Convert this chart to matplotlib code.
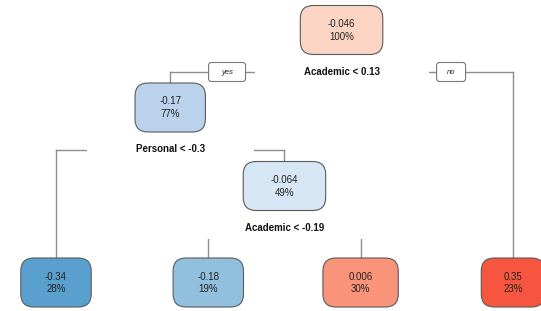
import matplotlib
matplotlib.use('Agg')
import matplotlib.pyplot as plt
from matplotlib.patches import FancyBboxPatch, Rectangle

plt.rcParams['font.family'] = ['Liberation Sans', 'DejaVu Sans']

# tree nodes (rpart numbering)
node_ids = [1, 2, 5, 4, 10, 11, 3]
node_values = ['-0.046', '-0.17', '-0.064', '-0.34', '-0.18', '0.006', '0.35']
node_pcts = [100, 77, 49, 28, 19, 30, 23]
node_colors = ['#fcd4c3', '#bad2ec', '#d7e6f5', '#5aa0ce', '#90c0de', '#f9937a', '#f6563f']
split_nodes = [1, 2, 5]
split_labels = ['Academic < 0.13', 'Personal < -0.3', 'Academic < -0.19']
children = {1: (2, 3), 2: (4, 5), 5: (10, 11)}

W, H = 541, 311
fig = plt.figure(figsize=(W / 100, H / 100), dpi=100)
ax = fig.add_axes([0, 0, 1, 1])
ax.set_xlim(0, W)
ax.set_ylim(H, 0)
ax.axis('off')

# layout: leaves evenly spaced, parents centred over children
def leaves_of(n):
    if n not in children:
        return [n]
    return leaves_of(children[n][0]) + leaves_of(children[n][1])

leaf_order = leaves_of(1)
xs = {}
for i, n in enumerate(leaf_order):
    xs[n] = 56 + i * 152.3

def place(n):
    if n in children:
        a, b = children[n]
        place(a)
        place(b)
        xs[n] = (xs[a] + xs[b]) / 2
place(1)

level_y = [30, 107.5, 186]
leaf_y = 282.5
depth = {1: 0}
for p in [1, 2, 5]:
    for c in children[p]:
        depth[c] = depth[p] + 1
ys = {n: (leaf_y if n not in children else level_y[depth[n]]) for n in node_ids}

box_h = 49
renderer = fig.canvas.get_renderer()
line_col = '#8e8e8e'

def text_width(s, **kw):
    t = ax.text(0, 0, s, **kw)
    w = t.get_window_extent(renderer).width
    t.remove()
    return w

half_w = {}
for n, val in zip(node_ids, node_values):
    half_w[n] = (2.2 * text_width(val, fontsize=7) + 22) / 2

# branches and split labels
for n, lab in zip(split_nodes, split_labels):
    a, b = children[n]
    sy = ys[n] + 42
    ax.plot([xs[a], xs[b]], [sy, sy], color=line_col, lw=1, zorder=1)
    for c in (a, b):
        ax.plot([xs[c], xs[c]], [sy, ys[c] - box_h / 2], color=line_col, lw=1, zorder=1)
    tw = text_width(lab, fontsize=7, fontweight='bold')
    gap = tw + 98
    ax.add_patch(Rectangle((xs[n] - gap / 2, sy - 11), gap, 22,
                           facecolor='white', edgecolor='none', zorder=2))
    ax.text(xs[n], sy, lab, fontsize=7, fontweight='bold', color='#111111',
            ha='center', va='center', zorder=3)
    if n == 1:
        # yes / no tags on the root split
        gl, gr = xs[n] - gap / 2, xs[n] + gap / 2
        for txt, bw, cx in [('yes', 37, gl - 9 - 37 / 2), ('no', 29, gr + 8 + 29 / 2)]:
            ax.add_patch(FancyBboxPatch((cx - bw / 2, sy - 9.5), bw, 19,
                                        boxstyle='round,pad=0,rounding_size=3',
                                        facecolor='white', edgecolor='#777777',
                                        lw=0.8, zorder=4))
            ax.text(cx, sy, txt, fontsize=5.5, fontstyle='italic', color='#222222',
                    ha='center', va='center', zorder=5)

# node boxes
for n, val, pct, col in zip(node_ids, node_values, node_pcts, node_colors):
    hw = half_w[n]
    ax.add_patch(FancyBboxPatch((xs[n] - hw, ys[n] - box_h / 2), 2 * hw, box_h,
                                boxstyle='round,pad=0,rounding_size=13',
                                facecolor=col, edgecolor='#5a5a5a', lw=0.8, zorder=4))
    ax.text(xs[n], ys[n] - 6, val, fontsize=7, color='#222222',
            ha='center', va='center', zorder=5)
    ax.text(xs[n], ys[n] + 6.5, '%d%%' % pct, fontsize=7, color='#222222',
            ha='center', va='center', zorder=5)

fig.savefig('out.png', dpi=100)
